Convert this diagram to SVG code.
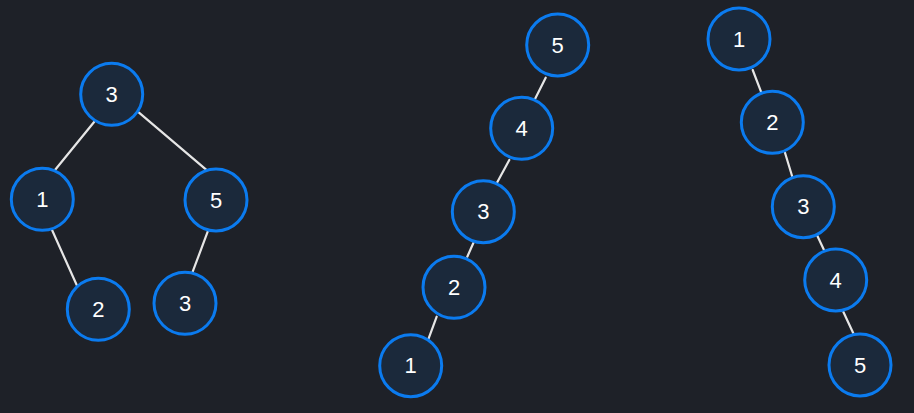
<svg xmlns="http://www.w3.org/2000/svg" width="914" height="413" viewBox="0 0 914 413">
<style>
.n circle{fill:#1b293b;stroke:#0b7bef;stroke-width:3}
.n text{fill:#ffffff;font-family:"Liberation Sans",Arial,sans-serif;font-size:22px;text-anchor:middle;dominant-baseline:central}
.e line{stroke:#e6e6e6;stroke-width:2.2;stroke-linecap:round}
</style>
<rect width="914" height="413" fill="#1e2128"/>
<g id="connectors" class="e">
<line x1="94.3" y1="121.7" x2="55" y2="170"/>
<line x1="139" y1="112.7" x2="207.3" y2="170.7"/>
<line x1="51.7" y1="229.3" x2="76.7" y2="285"/>
<line x1="207.7" y1="231.7" x2="192.7" y2="271.7"/>
<line x1="545.7" y1="77.7" x2="535" y2="99"/>
<line x1="509.3" y1="160" x2="496.7" y2="183.3"/>
<line x1="473.7" y1="242.3" x2="467.3" y2="256.7"/>
<line x1="436.7" y1="316.7" x2="428.3" y2="339.3"/>
<line x1="752.7" y1="70" x2="761" y2="91.7"/>
<line x1="785" y1="152.7" x2="792.3" y2="176.7"/>
<line x1="817.3" y1="235.7" x2="824" y2="250"/>
<line x1="843.3" y1="311.7" x2="853.3" y2="333.3"/>
</g>
<g id="a3" class="n"><circle cx="111.7" cy="94.3" r="31"/><text x="111.7" y="94.3">3</text></g>
<g id="a1" class="n"><circle cx="42.3" cy="199.3" r="31"/><text x="42.3" y="199.3">1</text></g>
<g id="a5" class="n"><circle cx="216" cy="200" r="31"/><text x="216" y="200">5</text></g>
<g id="a2" class="n"><circle cx="98.3" cy="309.3" r="31"/><text x="98.3" y="309.3">2</text></g>
<g id="a3b" class="n"><circle cx="185" cy="303.3" r="31"/><text x="185" y="303.3">3</text></g>
<g id="b5" class="n"><circle cx="557.7" cy="45" r="31"/><text x="557.7" y="45">5</text></g>
<g id="b4" class="n"><circle cx="521.7" cy="128.3" r="31"/><text x="521.7" y="128.3">4</text></g>
<g id="b3" class="n"><circle cx="483.3" cy="211.7" r="31"/><text x="483.3" y="211.7">3</text></g>
<g id="b2" class="n"><circle cx="454" cy="287.3" r="31"/><text x="454" y="287.3">2</text></g>
<g id="b1" class="n"><circle cx="410.7" cy="365.7" r="31"/><text x="410.7" y="365.7">1</text></g>
<g id="c1" class="n"><circle cx="739" cy="39" r="31"/><text x="739" y="39">1</text></g>
<g id="c2" class="n"><circle cx="772.3" cy="122.3" r="31"/><text x="772.3" y="122.3">2</text></g>
<g id="c3" class="n"><circle cx="803.3" cy="206.7" r="31"/><text x="803.3" y="206.7">3</text></g>
<g id="c4" class="n"><circle cx="835.7" cy="280" r="31"/><text x="835.7" y="280">4</text></g>
<g id="c5" class="n"><circle cx="860" cy="365" r="31"/><text x="860" y="365">5</text></g>
</svg>
